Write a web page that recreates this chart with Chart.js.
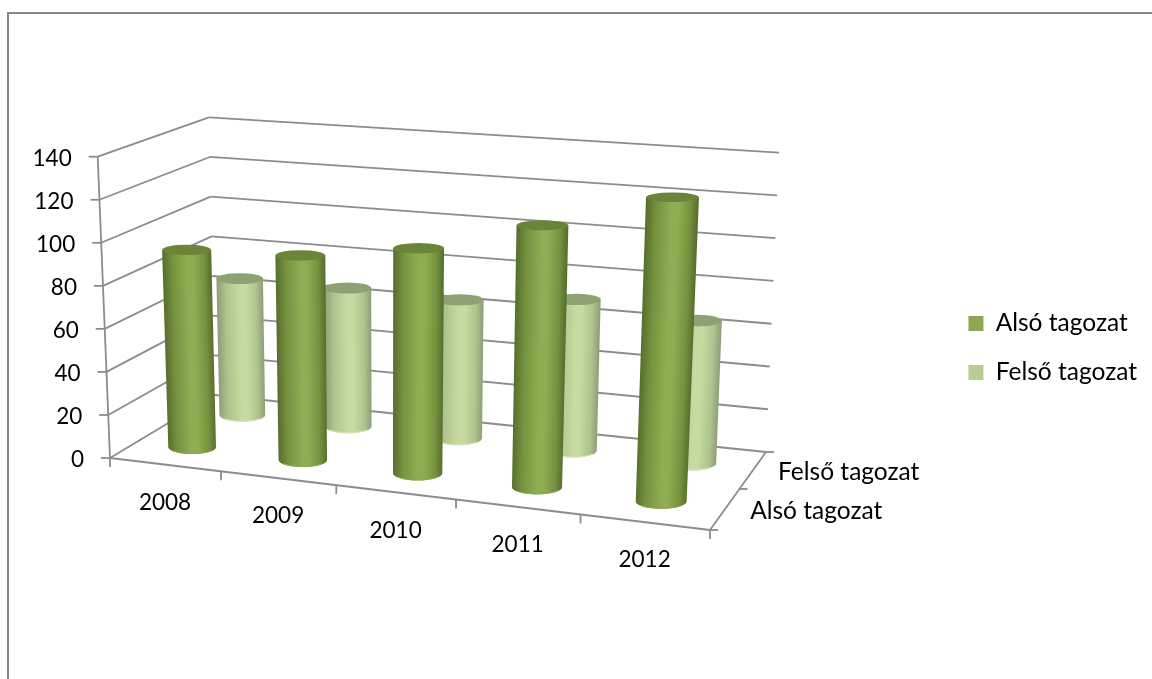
<!DOCTYPE html>
<html>
<head>
<meta charset="utf-8">
<title>Tagozatok</title>
<style>
  html, body { margin: 0; padding: 0; background: #fff; overflow: hidden; }
  #wrap { position: absolute; left: 0; top: 0; width: 1152px; height: 679px; overflow: hidden; }
  #frame { position: absolute; left: 7px; top: 12px; width: 1160px; height: 680px; border: 2px solid #868686; }
  canvas { position: absolute; left: 0; top: 0; }
</style>
<script src="https://cdn.jsdelivr.net/npm/chart.js@4"></script>
</head>
<body>
<div id="wrap">
  <div id="frame"></div>
  <canvas id="chart" width="1152" height="679"></canvas>
</div>
<script>
// data
const years = ["2008", "2009", "2010", "2011", "2012"];
const alsoTagozat = [93, 95, 103, 118, 135];
const felsoTagozat = [67, 67, 66, 71, 66];
const seriesNames = ["Alsó tagozat", "Felső tagozat"];
const yTicks = { min: 0, max: 140, step: 20 };

const NUM_FONT = '22.5px Lato';
const NAME_FONT = '24.5px Lato';
const GRID = '#8c8c8c';

// corners of the 3D box as seen in the picture
const box = {
  frontBottom: [[110, 458], [710, 530]],
  frontTop: [[97.7, 156.7], [725, 205]],
  backBottom: [[215, 395], [766, 452]],
  backTop: [[209, 117.3], [779, 152.7]],
};

// cylinder colours per dataset: side edge, side mid, side centre, cap
const looks = [
  { edge: '#566e2c', mid: '#75923f', centre: '#8fae53', cap: '#6a8438', rim: '#8aa65a' },
  { edge: '#8d9e77', mid: '#aec38d', centre: '#c6daa1', cap: '#8da172', rim: '#d3e4b6' },
];

const warp = (a, r) => a / (a + (1 - a) * r);
const mix = (p, q, a) => [p[0] + (q[0] - p[0]) * a, p[1] + (q[1] - p[1]) * a];

// u along the categories, v up the value axis, w into the depth (all 0..1)
function project(u, v, w) {
  const t = warp(u, 1.101);
  const s = warp(w, 0.9);
  const front = mix(mix(box.frontBottom[0], box.frontBottom[1], t), mix(box.frontTop[0], box.frontTop[1], t), v);
  const back = mix(mix(box.backBottom[0], box.backBottom[1], t), mix(box.backTop[0], box.backTop[1], t), v);
  return mix(front, back, s);
}

function line(ctx, a, b) {
  ctx.beginPath();
  ctx.moveTo(a[0], a[1]);
  ctx.lineTo(b[0], b[1]);
  ctx.stroke();
}

function drawCylinder(ctx, chart, el, w, look) {
  const area = chart.chartArea;
  const u = (el.x - area.left) / area.width;
  const v = (area.bottom - el.y) / area.height;
  const v0 = (area.bottom - el.base) / area.height;
  const top = project(u, v, w);
  const bottom = project(u, v0, w);

  // width follows the box span at that height and depth
  const radius = (vv) => {
    const span = project(1, vv, w)[0] - project(0, vv, w)[0];
    return (el.width / 2) * (span / area.width) * (0.96 + 0.08 * u);
  };
  const rt = radius(v), rb = radius(v0);
  const ryt = rt * (0.29 - 0.115 * v);
  const ryb = rb * (0.29 - 0.115 * v0);

  // shading runs across the leaning axis of the cylinder
  const dx = top[0] - bottom[0], dy = top[1] - bottom[1];
  const len = Math.hypot(dx, dy);
  const nx = -dy / len, ny = dx / len;
  const mx = (top[0] + bottom[0]) / 2, my = (top[1] + bottom[1]) / 2;
  const r = (rt + rb) / 2;
  const grad = ctx.createLinearGradient(mx - nx * r, my - ny * r, mx + nx * r, my + ny * r);
  grad.addColorStop(0, look.edge);
  grad.addColorStop(0.2, look.mid);
  grad.addColorStop(0.5, look.centre);
  grad.addColorStop(0.62, look.centre);
  grad.addColorStop(0.85, look.mid);
  grad.addColorStop(1, look.edge);

  ctx.beginPath();
  ctx.moveTo(top[0] - rt, top[1]);
  ctx.lineTo(bottom[0] - rb, bottom[1]);
  ctx.ellipse(bottom[0], bottom[1], rb, ryb, 0, Math.PI, 0, true);
  ctx.lineTo(top[0] + rt, top[1]);
  ctx.closePath();
  ctx.fillStyle = grad;
  ctx.fill();

  // light rim along the base
  ctx.beginPath();
  ctx.ellipse(bottom[0], bottom[1], rb - 0.5, ryb - 0.5, 0, Math.PI * 0.8, Math.PI * 0.2, true);
  ctx.strokeStyle = look.rim;
  ctx.lineWidth = 1;
  ctx.stroke();

  ctx.beginPath();
  ctx.ellipse(top[0], top[1], rt, ryt, 0, 0, Math.PI * 2);
  ctx.fillStyle = look.cap;
  ctx.fill();
}

const box3d = {
  id: 'box3d',
  beforeDatasetsDraw(chart) {
    const ctx = chart.ctx;
    const yScale = chart.scales.y;
    const xScale = chart.scales.x;
    const area = chart.chartArea;
    ctx.save();
    ctx.strokeStyle = GRID;
    ctx.lineWidth = 1.8;
    ctx.fillStyle = '#000';
    ctx.font = NUM_FONT;

    // value gridlines on the two walls, axis stubs and value labels
    ctx.textAlign = 'right';
    ctx.textBaseline = 'middle';
    yScale.ticks.forEach((tick) => {
      const v = (area.bottom - yScale.getPixelForValue(tick.value)) / area.height;
      const f = project(0, v, 0);
      const bl = project(0, v, 1);
      const br = project(1, v, 1);
      line(ctx, f, bl);
      line(ctx, bl, br);
      line(ctx, f, [f[0] - 9, f[1]]);
      ctx.fillText(tick.label, f[0] - 26, f[1] + 2);
    });
    line(ctx, project(0, 0, 0), project(0, 1, 0));

    // category axis on the floor
    line(ctx, project(0, 0, 0), project(1, 0, 0));
    const n = xScale.getLabels().length;
    for (let i = 0; i <= n; i++) {
      const p = project(i / n, 0, 0);
      line(ctx, p, [p[0], p[1] + 9]);
    }
    ctx.textAlign = 'center';
    xScale.getLabels().forEach((label, i) => {
      const u = (xScale.getPixelForValue(i) - area.left) / area.width;
      const p = project(u, 0, 0);
      ctx.fillText(label, p[0], p[1] + 38);
    });

    // depth axis with the series names
    line(ctx, project(1, 0, 0), project(1, 0, 1));
    [0, 0.5, 1].forEach((w) => {
      const p = project(1, 0, w);
      line(ctx, p, [p[0] + 8, p[1]]);
    });
    ctx.textAlign = 'left';
    ctx.font = NAME_FONT;
    chart.data.datasets.forEach((ds) => {
      const p = project(1, 0, ds.depth);
      ctx.fillText(ds.label, p[0] + 25, p[1] + 2);
    });
    ctx.restore();
  },
  beforeDatasetDraw(chart, args) {
    const ds = chart.data.datasets[args.index];
    args.meta.data.forEach((el) => {
      drawCylinder(chart.ctx, chart, el, ds.depth, looks[args.index]);
    });
    return false;
  },
};

new Chart(document.getElementById('chart'), {
  type: 'bar',
  data: {
    labels: years,
    datasets: [
      { label: seriesNames[0], data: alsoTagozat, backgroundColor: '#8ca852', depth: 0.25 },
      { label: seriesNames[1], data: felsoTagozat, backgroundColor: '#b8cd95', depth: 0.75 },
    ],
  },
  options: {
    responsive: false,
    animation: false,
    grouped: false,
    categoryPercentage: 1,
    barPercentage: 0.42,
    layout: { padding: { top: 17, right: 5 } },
    plugins: {
      tooltip: { enabled: false },
      legend: {
        position: 'right',
        labels: {
          boxWidth: 15,
          boxHeight: 15,
          padding: 24.5,
          color: '#000',
          font: { family: 'Lato', size: 24.5 },
        },
      },
    },
    scales: {
      x: { display: false },
      y: {
        display: false,
        min: yTicks.min,
        max: yTicks.max,
        ticks: { stepSize: yTicks.step },
      },
    },
  },
  plugins: [box3d],
});
</script>
</body>
</html>
